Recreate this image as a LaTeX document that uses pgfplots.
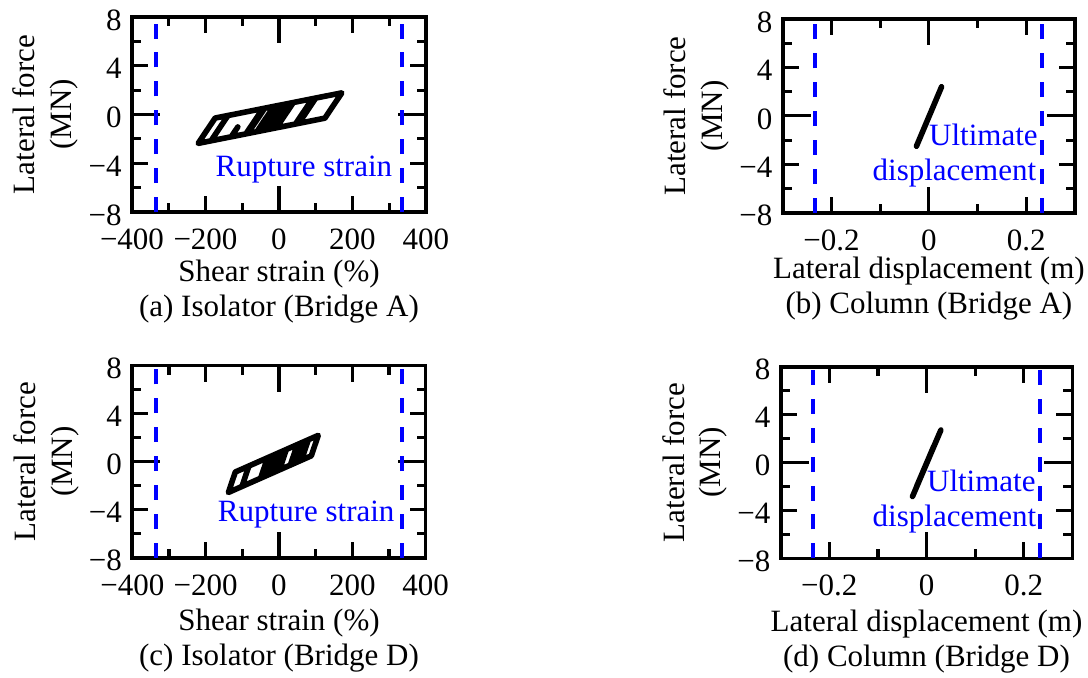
\documentclass[border=0pt]{standalone}
\usepackage{fontspec}
\setmainfont{Liberation Serif}
\usepackage{pgfplots}
\pgfplotsset{compat=1.18}
\definecolor{rblue}{RGB}{0,0,255}
\pgfplotsset{
  panel/.style={
    scale only axis,
    anchor=north west,
    clip=false,
    axis line style={line width=1.8pt},
    tick style={line width=1.6pt, black},
    major tick length=8pt,
    minor tick length=4.5pt,
    ymin=-8, ymax=8,
    ytick={-8,-4,0,4,8},
    yticklabels={−8,−4,0,4,8},
    minor ytick={-6,-2,2,6},
    xticklabel style={anchor=base, yshift=-18.7pt, inner sep=0pt},
    yticklabel style={anchor=east, inner sep=0pt, xshift=-5pt, yshift=-1.5pt},
    ylabel={Lateral force},
    ylabel style={at={(axis description cs:-0.331,0.5)}, anchor=base},
    extra x ticks={0},
    extra x tick labels={},
    extra x tick style={major tick length=13pt},
    extra y ticks={0},
    extra y tick labels={},
    extra y tick style={major tick length=14pt},
  },
  iso/.style={
    xmin=-400, xmax=400,
    xtick={-400,-200,0,200,400},
    xticklabels={−400,−200,0,200,400},
    minor xtick={-300,-100,100,300},
    xlabel={Shear strain (\%)},
  },
  col/.style={
    xmin=-0.3, xmax=0.3,
    xtick={-0.2,0,0.2},
    xticklabels={−0.2,0,0.2},
    minor xtick={-0.3,-0.1,0.1,0.3},
    xlabel={Lateral displacement (m)},
  },
  hyst/.style={black, line width=2.8pt, line join=round, line cap=round, mark=none},
  ult/.style={rblue, line width=2pt, dash pattern=on 7.5pt off 6.95pt, mark=none},
}
\begin{document}
\begin{tikzpicture}[font=\fontsize{15.5}{18}\selectfont]
\useasboundingbox (0pt,0pt) rectangle (544pt,-339pt);

% (a)
\begin{axis}[panel, iso, at={(66pt,-8.5pt)}, width=147pt, height=97.5pt,
  xlabel style={at={(axis description cs:0.5,0)}, anchor=base, yshift=-35pt}]
\addplot[hyst] coordinates {
(0,0) (19.23,0.865) (30,0.93) (-16.15,-1.147) (-50,-1.35) (-3.85,0.727) (39,0.984)
(-7.15,-1.093) (-90,-1.59) (-43.85,0.487) (91,1.296) (44.85,-0.781) (-185,-2.16)
(-138.85,-0.083) (171,1.776) (124.85,-0.301) (-220,-2.37) (-173.85,-0.293) (100,1.35)
(53.85,-0.727) (-85,-1.56) (-38.85,0.517) (5,0.78) (-41.15,-1.297) (-60,-1.41)
(-13.85,0.667) (20,0.87) (-26.15,-1.207) (-130,-1.83) (-112,-1.02)
};
\addplot[ult] coordinates {(-335,-8) (-335,8)};
\addplot[ult] coordinates {(335,-8) (335,8)};
\node[rblue, anchor=base east, inner sep=0pt] at (axis cs:309,-5.10) {Rupture strain};
\node[rotate=90, anchor=base] at (axis description cs:-0.205,0.5) {(MN)};
\node[anchor=base, yshift=-52.5pt] at (axis description cs:0.5,0) {(a) Isolator (Bridge A)};
\end{axis}

% (b)
\begin{axis}[panel, col, at={(391.35pt,-9.5pt)}, width=146.2pt, height=96.9pt,
  xlabel style={at={(axis description cs:0.5,0)}, anchor=base, yshift=-33pt}]
\addplot[hyst] coordinates {
(0,-0.07) (0.012,1.07) (-0.015,-1.50) (0.02,1.83) (-0.0255,-2.5) (0.026,2.4) (-0.01,-1.02) (0,-0.07)
};
\addplot[ult] coordinates {(-0.233,-8) (-0.233,8)};
\addplot[ult] coordinates {(0.233,-8) (0.233,8)};
\node[rblue, anchor=base east, inner sep=0pt] at (axis cs:0.224,-2.47) {Ultimate};
\node[rblue, anchor=base east, inner sep=0pt] at (axis cs:0.221,-5.30) {displacement};
\node[rotate=90, anchor=base] at (axis description cs:-0.205,0.5) {(MN)};
\node[anchor=base, yshift=-50.5pt] at (axis description cs:0.5,0) {(b) Column (Bridge A)};
\end{axis}

% (c)
\begin{axis}[panel, iso, at={(66.15pt,-182.85pt)}, width=146.7pt, height=96pt,
  xlabel style={at={(axis description cs:0.5,0)}, anchor=base, yshift=-36.5pt}]
\addplot[hyst] coordinates {
(0,0) (9.80,0.882) (20,1.02) (1.05,-0.686) (-20,-0.97) (-1.05,0.736) (15,0.9525)
(-3.95,-0.753) (-35,-1.1725) (-16.05,0.533) (60,1.56) (41.05,-0.146) (-101,-2.0635)
(-82.05,-0.358) (107,2.1945) (88.05,0.489) (-138,-2.563) (-119.05,-0.857) (70,1.695)
(51.05,-0.011) (-50,-1.375) (-31.05,0.331) (80,1.83) (61.05,0.124) (-15,-0.9025)
(3.95,0.803) (50,1.425) (31.05,-0.281) (-5,-0.7675)
};
\addplot[ult] coordinates {(-335,-8) (-335,8)};
\addplot[ult] coordinates {(335,-8) (335,8)};
\node[rblue, anchor=base east, inner sep=0pt] at (axis cs:316,-5.0) {Rupture strain};
\node[rotate=90, anchor=base] at (axis description cs:-0.205,0.5) {(MN)};
\node[anchor=base, yshift=-54pt] at (axis description cs:0.5,0) {(c) Isolator (Bridge D)};
\end{axis}

% (d)
\begin{axis}[panel, col, at={(390.35pt,-183.35pt)}, width=145.8pt, height=95.8pt,
  xlabel style={at={(axis description cs:0.5,0)}, anchor=base, yshift=-36.5pt}]
\addplot[hyst] coordinates {
(0,-0.07) (0.015,1.36) (-0.02,-1.97) (0.0296,2.71) (-0.0288,-2.84) (0.01,0.88) (0,-0.07)
};
\addplot[ult] coordinates {(-0.233,-8) (-0.233,8)};
\addplot[ult] coordinates {(0.233,-8) (0.233,8)};
\node[rblue, anchor=base east, inner sep=0pt] at (axis cs:0.2253,-2.44) {Ultimate};
\node[rblue, anchor=base east, inner sep=0pt] at (axis cs:0.2267,-5.36) {displacement};
\node[rotate=90, anchor=base] at (axis description cs:-0.205,0.5) {(MN)};
\node[anchor=base, yshift=-54pt] at (axis description cs:0.5,0) {(d) Column (Bridge D)};
\end{axis}
\end{tikzpicture}
\end{document}
